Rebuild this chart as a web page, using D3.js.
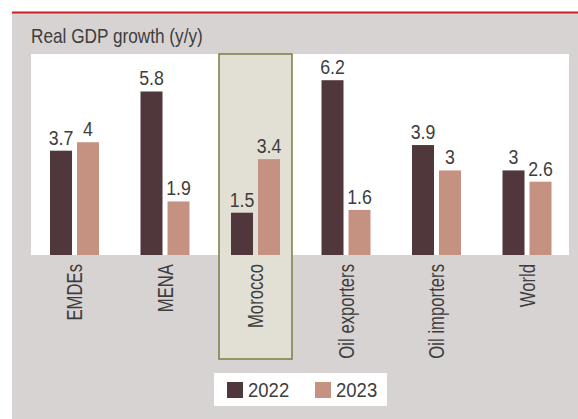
<!DOCTYPE html>
<html>
<head>
<meta charset="utf-8">
<script src="https://cdn.jsdelivr.net/npm/d3@7"></script>
<style>
  html, body { margin: 0; padding: 0; background: #ffffff; }
  svg { display: block; }
  text { font-family: 'Liberation Sans', Arial, sans-serif; fill: #3d3d3d; }
</style>
</head>
<body>
<svg id="chart" width="578" height="419"></svg>
<script>
// Real GDP growth, year over year (%)
const categories = ["EMDEs", "MENA", "Morocco", "Oil exporters", "Oil importers", "World"];
const years = ["2022", "2023"];
const values2022 = [3.7, 5.8, 1.5, 6.2, 3.9, 3];
const values2023 = [4, 1.9, 3.4, 1.6, 3, 2.6];
const highlighted = "Morocco";
const title = "Real GDP growth (y/y)";

const colors = { "2022": "#50373b", "2023": "#c59282" };

// text styles: font size and horizontal squeeze for a condensed look
const styles = {
  title:    { size: 21,   narrow: 0.82 },
  value:    { size: 19.5, narrow: 0.91 },
  category: { size: 22,   narrow: 0.76 },
  legend:   { size: 19.5, narrow: 0.95 }
};

const rows = categories.map((c, i) => ({ category: c, values: [
  { year: "2022", value: values2022[i] },
  { year: "2023", value: values2023[i] }
]}));

const svg = d3.select("#chart");

// condensed text placed at (x, y), optionally rotated
function label(parent, style, x, y, str, anchor = "start", rotate = 0, dy = null) {
  const s = styles[style];
  const t = parent.append("text")
    .attr("transform", `translate(${x},${y}) rotate(${rotate}) scale(${s.narrow},1)`)
    .attr("text-anchor", anchor)
    .attr("font-size", s.size)
    .text(str);
  if (dy) t.attr("dy", dy);
  return t;
}

// panel background and red rule on top
svg.append("rect").attr("x", 12).attr("y", 13).attr("width", 566).attr("height", 406).attr("fill", "#d8d3d3");
svg.append("rect").attr("x", 12).attr("y", 11.5).attr("width", 566).attr("height", 2).attr("fill", "#c8202b");

label(svg, "title", 31, 43.3, title);

// plotting area
const plotTop = 54, plotBottom = 255;
svg.append("rect").attr("x", 31).attr("y", plotTop).attr("width", 538).attr("height", plotBottom - plotTop).attr("fill", "#ffffff");

const x0 = d3.scaleBand().domain(categories).range([29.25, 572.25]).paddingInner(0).paddingOuter(0);
const x1 = d3.scaleBand().domain(years).range([20.75, 69.75]).paddingInner(0.185).paddingOuter(0);
const y = d3.scaleLinear().domain([0, 7.13]).range([plotBottom, plotTop]);

// highlight box behind the Morocco group
const hx = x0(highlighted) + x0.bandwidth() / 2;
svg.append("rect")
  .attr("x", hx - 36.5).attr("y", plotTop)
  .attr("width", 73).attr("height", 359 - plotTop)
  .attr("fill", "#e2dfd4").attr("stroke", "#7d7c42").attr("stroke-width", 1.5);

const groups = svg.append("g").selectAll("g").data(rows).join("g")
  .attr("transform", d => `translate(${x0(d.category)},0)`);

groups.selectAll("rect").data(d => d.values).join("rect")
  .attr("x", d => x1(d.year))
  .attr("y", d => y(d.value))
  .attr("width", x1.bandwidth())
  .attr("height", d => y(0) - y(d.value))
  .attr("fill", d => colors[d.year]);

groups.each(function (d) {
  const g = d3.select(this);
  d.values.forEach(v => {
    label(g, "value", x1(v.year) + x1.bandwidth() / 2, y(v.value) - 6, v.value, "middle");
  });
});

// category labels, rotated
const catG = svg.append("g");
categories.forEach(c => {
  label(catG, "category", x0(c) + x0.bandwidth() / 2, 264, c, "end", -90, "0.36em");
});

// legend
const legend = svg.append("g");
legend.append("rect").attr("x", 214).attr("y", 373).attr("width", 173).attr("height", 33).attr("fill", "#ffffff");
const legendX = [227, 315];
years.forEach((yr, i) => {
  legend.append("rect").attr("x", legendX[i]).attr("y", 382).attr("width", 16).attr("height", 16).attr("fill", colors[yr]);
  label(legend, "legend", legendX[i] + 21, 397, yr);
});
</script>
</body>
</html>
